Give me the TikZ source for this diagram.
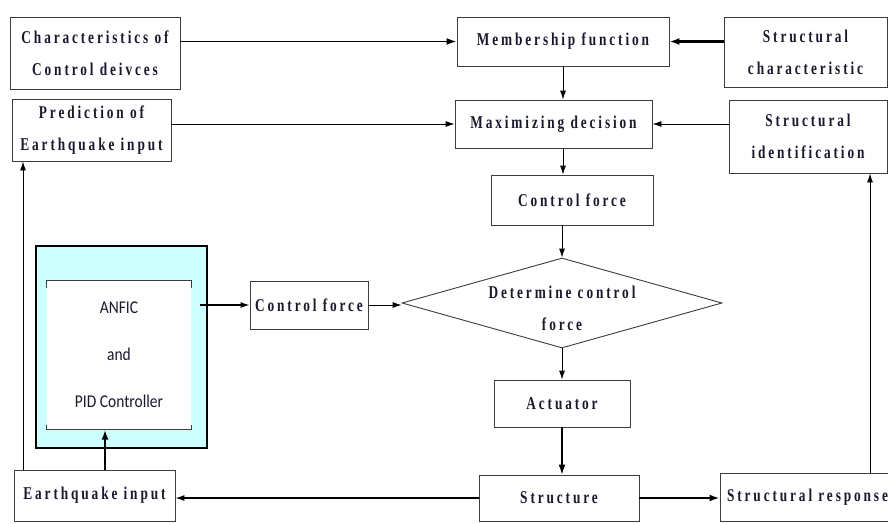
\documentclass[tikz,border=0pt]{standalone}
\usepackage{fontspec}
\usetikzlibrary{arrows.meta,shapes.geometric}
\newfontfamily\boxfont[FakeStretch=0.74,LetterSpace=16]{Liberation Serif}
\newfontfamily\ctrlfont[FakeStretch=0.86]{Carlito}
\definecolor{ctrlbg}{RGB}{204,255,255}
\definecolor{edge}{RGB}{60,60,60}
\definecolor{ink}{RGB}{25,25,45}

\begin{document}
\begin{tikzpicture}[x=1pt,y=-1pt,
  blk/.style={draw=edge,line width=0.9pt,fill=white,inner sep=0pt,align=center,
    text=ink,font=\boxfont\bfseries\fontsize{18}{32}\selectfont},
  flow/.style={line width=0.9pt,-{Latex[length=9pt,width=6pt]}},
  heavy/.style={line width=2.2pt,-{Latex[length=10pt,width=7pt]}},
]
\useasboundingbox (0,0) rectangle (888,523);
\clip (0,0) rectangle (888,523);

% upper decision chain
\node[blk,minimum width=170pt,minimum height=72pt] (char) at (95,53) {Characteristics of\\Control deivces};
\node[blk,minimum width=159pt,minimum height=62pt] (pred) at (91.5,130) {Prediction of\\Earthquake input};
\node[blk,minimum width=212pt,minimum height=49pt] (memb) at (563,41.5) {Membership function};
\node[blk,minimum width=163pt,minimum height=70pt] (schar) at (805.5,52) {Structural\\characteristic};
\node[blk,minimum width=197pt,minimum height=48pt] (maxd) at (553.5,124) {Maximizing decision};
\node[blk,minimum width=158pt,minimum height=73pt] (sident) at (808,136.5) {Structural\\identification};
\node[blk,minimum width=162pt,minimum height=50pt] (cfu) at (572,200) {Control force};

% controller block
\node[draw=black,line width=2pt,fill=ctrlbg,minimum width=171pt,minimum height=202pt] (ctrl) at (121.5,347) {};
\node[fill=white,inner sep=0pt,minimum width=144pt,minimum height=149pt,align=center,
  text=ink,font=\ctrlfont\fontsize{18}{47}\selectfont] (anfic) at (119,355) {ANFIC\\and\\PID Controller};
\draw[edge,line width=0.9pt] ([yshift=-8pt]anfic.north west) -- (anfic.north west) -- (anfic.north east) -- ([yshift=-8pt]anfic.north east);
\draw[edge,line width=0.9pt] ([yshift=5pt]anfic.south west) -- (anfic.south west) -- (anfic.south east) -- ([yshift=5pt]anfic.south east);

\node[blk,minimum width=118pt,minimum height=48pt] (cfm) at (309,305) {Control force};
\node[diamond,draw=edge,line width=0.9pt,fill=white,minimum width=320pt,minimum height=90pt,inner sep=0pt] (dec) at (562,303) {};
\node[align=center,text=ink,font=\boxfont\bfseries\fontsize{18}{32}\selectfont] (dect) at (562,308) {Determine control\\force};
\node[blk,minimum width=136pt,minimum height=47pt] (act) at (562,403.5) {Actuator};

% plant row
\node[blk,minimum width=161pt,minimum height=51pt] (eq) at (94.5,495.5) {Earthquake input};
\node[blk,minimum width=160pt,minimum height=46pt] (struct) at (559,498) {Structure};
\node[blk,minimum width=175pt,minimum height=48pt] (sresp) at (807.5,497) {Structural response};

% routing columns
\coordinate (lline) at (23,0);
\coordinate (fb) at (105,0);
\coordinate (rline) at (870,0);
\coordinate (ao) at (200,305);

% connectors
\draw[heavy,line width=1.6pt] (char.east |- memb.west) -- (memb.west);
\draw[flow] (pred.east |- maxd.west) -- (maxd.west);
\draw[heavy] (schar.west |- memb.east) -- (memb.east);
\draw[flow] (sident.west |- maxd.east) -- (maxd.east);
\draw[flow] (memb.south) -- (memb.south |- maxd.north);
\draw[flow] (memb.south |- maxd.south) -- (memb.south |- cfu.north);
\draw[flow] (dec.north |- cfu.south) -- (dec.north);
\draw[flow] (dec.south) -- (act.north);
\draw[heavy,line width=1.4pt] (act.south) -- (act.south |- struct.north);
\draw[flow,line width=1.2pt] (struct.west) -- (struct.west -| eq.east);
\draw[heavy] (struct.east) -- (struct.east -| sresp.west);
\draw[flow] (rline |- sresp.north) -- (rline |- sident.south);
\draw[flow] (lline |- eq.north) -- (lline |- pred.south);
\draw[heavy,line width=1.8pt] (fb |- eq.north) -- (fb |- anfic.south);
\draw[flow,line width=1.2pt] (ao) -- (ao -| cfm.west);
\draw[flow] (cfm.east) -- (cfm.east -| dec.west);
\end{tikzpicture}
\end{document}
